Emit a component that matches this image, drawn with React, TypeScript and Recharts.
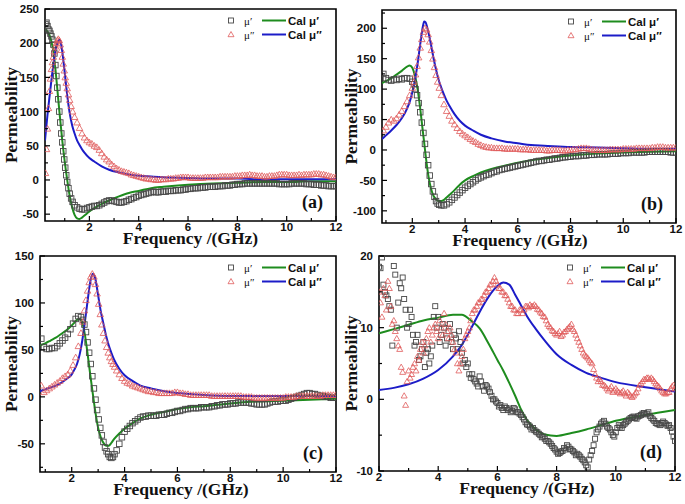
import React from 'react';
import { ComposedChart, XAxis, YAxis, Scatter, Line, ReferenceArea } from 'recharts';

// panel (a)
const aFreq = [
  0.22, 0.26, 0.3, 0.34, 0.38, 0.42, 0.46, 0.5, 0.54, 0.58,
  0.62, 0.66, 0.7, 0.74, 0.78, 0.82, 0.86, 0.9, 0.94, 0.98,
  1.02, 1.06, 1.1, 1.15, 1.2, 1.26, 1.32, 1.4, 1.5, 1.6,
  1.7, 1.8, 1.9, 2.0, 2.2, 2.4, 2.6, 2.8, 3.0, 3.2,
  3.4, 3.6, 3.8, 4.0, 4.2, 4.4, 4.6, 4.8, 5.0, 5.2,
  5.4, 5.6, 5.8, 6.0, 6.2, 6.4, 6.6, 6.8, 7.0, 7.2,
  7.4, 7.6, 7.8, 8.0, 8.2, 8.4, 8.6, 8.8, 9.0, 9.2,
  9.4, 9.6, 9.8, 10.0, 10.2, 10.4, 10.6, 10.8, 11.0, 11.2,
  11.4, 11.6, 11.8, 12.0,
];
const aMuReal = [
  228, 230, 225, 220, 218, 214, 210, 205, 198, 185,
  168, 152, 135, 118, 100, 84, 68, 55, 42, 30,
  18, 7, -3, -12, -20, -27, -32, -37, -40, -42,
  -43, -43, -41, -40, -38, -37, -33, -30, -31, -33,
  -32, -29, -26, -23, -21, -19, -17, -18, -17, -16,
  -16, -15, -14, -13, -12, -12, -11, -10, -10, -9,
  -9, -8, -7, -6, -6, -5, -5, -5, -5, -5,
  -5, -5, -6, -6, -5, -5, -5, -6, -6, -7,
  -8, -8, -9, -9,
];
const aMuImag = [
  10, 45, 75, 105, 130, 148, 162, 172, 180, 188,
  195, 200, 204, 206, 204, 198, 190, 180, 170, 160,
  150, 142, 134, 125, 117, 108, 100, 92, 84, 76,
  68, 62, 58, 55, 50, 44, 34, 27, 20, 15,
  12, 10, 7, 5, 3, 2, 1, 0, 1, 2,
  2, 3, 4, 4, 3, 3, 3, 4, 4, 4,
  5, 5, 5, 6, 7, 7, 7, 6, 6, 5,
  6, 7, 8, 8, 7, 7, 7, 8, 8, 9,
  8, 7, 5, 4,
];
// second sweep of (a), between the points above
const aFreq2 = [
  2.1, 2.3, 2.5, 2.7, 2.9, 3.1, 3.3, 3.5, 3.7, 3.9,
  4.1, 4.3, 4.5, 4.7, 4.9, 5.1, 5.3, 5.5, 5.7, 5.9,
  6.1, 6.3, 6.5, 6.7, 6.9, 7.1, 7.3, 7.5, 7.7, 7.9,
  8.1, 8.3, 8.5, 8.7, 8.9, 9.1, 9.3, 9.5, 9.7, 9.9,
  10.1, 10.3, 10.5, 10.7, 10.9, 11.1, 11.3, 11.5, 11.7, 11.9,
];
const aMuReal2 = [
  -39, -38, -35, -31, -30, -32, -33, -31, -28, -25,
  -22, -20, -18, -18, -17, -17, -16, -15, -15, -14,
  -13, -12, -11, -11, -10, -10, -9, -8, -8, -7,
  -6, -5, -5, -5, -5, -5, -5, -5, -6, -6,
  -6, -5, -5, -5, -6, -7, -7, -8, -9, -9,
];
const aMuImag2 = [
  53, 48, 39, 30, 23, 17, 13, 11, 8, 6,
  4, 2, 1, 0, 1, 1, 2, 3, 4, 4,
  3, 3, 3, 4, 4, 4, 5, 5, 5, 6,
  6, 7, 8, 7, 6, 5, 6, 6, 8, 8,
  7, 7, 8, 8, 8, 9, 9, 8, 6, 4,
];
const aCalFreq = [
  0.2, 0.3, 0.4, 0.5, 0.55, 0.6, 0.65, 0.7, 0.75, 0.8,
  0.85, 0.9, 0.95, 1.0, 1.05, 1.1, 1.15, 1.2, 1.3, 1.4,
  1.5, 1.6, 1.7, 1.8, 2.0, 2.2, 2.5, 2.8, 3.2, 3.6,
  4.0, 4.5, 5, 6, 7, 8, 9, 10, 11, 12,
];
const aCalReal = [
  221, 217, 210, 196, 186, 170, 152, 133, 113, 94,
  76, 58, 42, 27, 13, 0, -12, -23, -40, -51,
  -56, -57, -55, -52, -46, -41, -35, -30, -24, -19,
  -16, -12, -10, -7, -5, -4, -3, -3, -2, -2,
];
const aCalImag = [
  58, 95, 127, 158, 172, 184, 194, 200, 204, 205,
  199, 188, 173, 157, 140, 124, 110, 98, 80, 68,
  58, 51, 45, 40, 32, 27, 20, 15, 11, 8,
  6, 5, 4, 3, 2, 2, 1, 1, 1, 1,
];

// panel (b)
const bFreq = [
  0.9, 1.0, 1.1, 1.2, 1.3, 1.4, 1.5, 1.6, 1.7, 1.8,
  1.9, 2.0, 2.06, 2.12, 2.18, 2.24, 2.3, 2.36, 2.42, 2.48,
  2.54, 2.6, 2.66, 2.72, 2.78, 2.84, 2.9, 2.96, 3.02, 3.1,
  3.2, 3.3, 3.4, 3.5, 3.6, 3.7, 3.8, 3.9, 4.0, 4.2,
  4.4, 4.6, 4.8, 5.0, 5.2, 5.4, 5.6, 5.8, 6.0, 6.2,
  6.4, 6.6, 6.8, 7.0, 7.2, 7.4, 7.6, 7.8, 8.0, 8.2,
  8.4, 8.6, 8.8, 9.0, 9.2, 9.4, 9.6, 9.8, 10.0, 10.2,
  10.4, 10.6, 10.8, 11.0, 11.2, 11.4, 11.6, 11.8, 12.0,
];
const bMuReal = [
  125, 118, 115, 114, 116, 115, 117, 116, 118, 118,
  117, 112, 108, 100, 90, 77, 62, 45, 28, 10,
  -8, -25, -42, -56, -68, -77, -84, -88, -90, -91,
  -91, -89, -86, -82, -78, -74, -70, -66, -62, -56,
  -50, -45, -41, -38, -35, -32, -30, -28, -26, -24,
  -22, -20, -18, -17, -16, -14, -13, -12, -11, -10,
  -9, -9, -8, -7, -7, -7, -6, -6, -5, -5,
  -4, -4, -4, -3, -3, -3, -3, -4, -4,
];
const bMuImag = [
  32, 38, 45, 50, 48, 52, 58, 64, 72, 80,
  90, 102, 112, 124, 138, 152, 168, 182, 194, 200,
  198, 190, 178, 164, 150, 136, 123, 112, 102, 90,
  75, 64, 56, 48, 42, 36, 31, 27, 24, 18,
  13, 8, 5, 4, 3, 3, 2, 2, 2, 1,
  1, 0, 0, 0, -1, 0, 0, -1, 0, 1,
  3, 3, 1, 0, 0, 0, 1, 1, 2, 2,
  2, 3, 3, 3, 4, 5, 4, 4, 4,
];
const bFreq2 = [
  4.1, 4.3, 4.5, 4.7, 4.9, 5.1, 5.3, 5.5, 5.7, 5.9,
  6.1, 6.3, 6.5, 6.7, 6.9, 7.1, 7.3, 7.5, 7.7, 7.9,
  8.1, 8.3, 8.5, 8.7, 8.9, 9.1, 9.3, 9.5, 9.7, 9.9,
  10.1, 10.3, 10.5, 10.7, 10.9, 11.1, 11.3, 11.5, 11.7, 11.9,
];
const bMuReal2 = [
  -59, -53, -47, -43, -40, -36, -33, -31, -29, -27,
  -25, -23, -21, -19, -18, -16, -15, -14, -12, -11,
  -10, -10, -9, -8, -8, -7, -7, -6, -6, -5,
  -5, -4, -4, -4, -3, -3, -3, -3, -3, -4,
];
const bMuImag2 = [
  21, 15, 10, 6, 4, 3, 3, 2, 2, 2,
  1, 1, 0, 0, 0, -1, 0, 0, -1, 0,
  1, 2, 3, 2, 0, 0, 0, 1, 1, 1,
  2, 2, 3, 3, 3, 4, 5, 5, 4, 4,
];
const bCalFreq = [
  0.85, 1.0, 1.2, 1.4, 1.6, 1.8, 1.9, 2.0, 2.1, 2.2,
  2.3, 2.4, 2.45, 2.5, 2.6, 2.7, 2.8, 2.9, 3.0, 3.1,
  3.2, 3.3, 3.4, 3.6, 3.8, 4.0, 4.3, 4.6, 5.0, 5.5,
  6, 6.5, 7, 8, 9, 10, 11, 12,
];
const bCalReal = [
  110, 113, 118, 124, 130, 137, 139, 135, 122, 100,
  68, 30, 12, -7, -40, -62, -75, -81, -84, -84,
  -82, -78, -74, -66, -57, -50, -43, -37, -31, -26,
  -21, -17, -14, -9, -6, -4, -3, -2,
];
const bCalImag = [
  18, 24, 32, 41, 52, 68, 79, 95, 115, 142,
  174, 203, 211, 210, 195, 175, 152, 132, 115, 102,
  91, 81, 73, 59, 48, 40, 32, 25, 19, 14,
  11, 8, 7, 5, 4, 3, 2, 2,
];

// panel (c)
const cFreq = [
  0.85, 0.95, 1.05, 1.15, 1.25, 1.35, 1.45, 1.55, 1.65, 1.75,
  1.85, 1.95, 2.05, 2.15, 2.25, 2.35, 2.42, 2.48, 2.54, 2.6,
  2.66, 2.72, 2.78, 2.84, 2.9, 2.96, 3.02, 3.08, 3.14, 3.2,
  3.26, 3.32, 3.38, 3.44, 3.5, 3.56, 3.62, 3.7, 3.8, 3.9,
  4.0, 4.2, 4.4, 4.6, 4.8, 5.0, 5.2, 5.4, 5.6, 5.8,
  6.0, 6.2, 6.4, 6.6, 6.8, 7.0, 7.2, 7.4, 7.6, 7.8,
  8.0, 8.2, 8.4, 8.6, 8.8, 9.0, 9.2, 9.4, 9.6, 9.8,
  10.0, 10.2, 10.4, 10.6, 10.8, 11.0, 11.2, 11.4, 11.6, 11.8,
  12.0,
];
const cMuReal = [
  62, 53, 51, 51, 52, 52, 54, 57, 60, 63,
  67, 72, 78, 83, 86, 85, 82, 77, 69, 58,
  47, 35, 22, 9, -3, -14, -24, -33, -41, -48,
  -54, -58, -61, -64, -65, -64, -61, -57, -50, -43,
  -37, -31, -26, -22, -21, -20, -20, -19, -18, -17,
  -15, -14, -13, -12, -12, -11, -11, -10, -9, -8,
  -7, -7, -6, -6, -7, -8, -8, -7, -5, -5,
  -4, -3, -1, 1, 3, 4, 3, 1, 0, -1,
  -1,
];
const cMuImag = [
  12, 5, 7, 9, 11, 13, 15, 17, 20, 22,
  24, 28, 34, 42, 54, 68, 80, 92, 103, 113,
  122, 128, 131, 128, 120, 110, 99, 88, 77, 68,
  60, 53, 47, 42, 38, 35, 32, 28, 24, 20,
  17, 14, 11, 9, 7, 6, 5, 4, 4, 4,
  5, 4, 3, 2, 2, 2, 2, 1, 1, 1,
  1, 1, 1, 0, 0, -1, -1, -1, -1, -1,
  -1, 0, 0, 1, 1, 1, 1, 1, 2, 2,
  2,
];
const cFreq2 = [
  4.1, 4.3, 4.5, 4.7, 4.9, 5.1, 5.3, 5.5, 5.7, 5.9,
  6.1, 6.3, 6.5, 6.7, 6.9, 7.1, 7.3, 7.5, 7.7, 7.9,
  8.1, 8.3, 8.5, 8.7, 8.9, 9.1, 9.3, 9.5, 9.7, 9.9,
  10.1, 10.3, 10.5, 10.7, 10.9, 11.1, 11.3, 11.5, 11.7, 11.9,
];
const cMuReal2 = [
  -34, -28, -24, -21, -20, -20, -19, -19, -17, -16,
  -15, -13, -12, -12, -11, -11, -10, -9, -8, -8,
  -7, -6, -6, -6, -7, -8, -8, -6, -5, -4,
  -4, -2, 0, 2, 4, 3, 2, 1, 0, -1,
];
const cMuImag2 = [
  15, 12, 10, 8, 6, 5, 4, 4, 4, 5,
  4, 3, 2, 2, 2, 2, 1, 1, 1, 1,
  1, 1, 0, 0, -1, -1, -1, -1, -1, -1,
  0, 0, 1, 1, 1, 1, 1, 2, 2, 2,
];
const cCalFreq = [
  0.8, 1.0, 1.2, 1.4, 1.6, 1.8, 2.0, 2.1, 2.2, 2.3,
  2.4, 2.5, 2.6, 2.7, 2.8, 2.9, 3.0, 3.1, 3.2, 3.3,
  3.4, 3.5, 3.6, 3.8, 4.0, 4.3, 4.6, 5.0, 5.5, 6,
  6.5, 7, 8, 9, 10, 11, 12,
];
const cCalReal = [
  55, 57, 60, 63, 67, 71, 76, 79, 82, 83,
  79, 66, 46, 24, 3, -17, -33, -43, -49, -52,
  -52, -49, -45, -39, -34, -28, -23, -19, -16, -13,
  -11, -10, -7, -5, -4, -3, -2,
];
const cCalImag = [
  6, 8, 10, 12, 15, 19, 24, 29, 35, 45,
  60, 80, 102, 122, 131, 125, 108, 91, 78, 65,
  55, 47, 40, 30, 23, 17, 12, 9, 6, 4,
  3, 2, 1, 1, 1, 1, 1,
];

// panel (d)
const dFreq = [
  2.0, 2.1, 2.2, 2.3, 2.4, 2.5, 2.6, 2.7, 2.8, 2.9,
  3.0, 3.1, 3.2, 3.3, 3.4, 3.5, 3.6, 3.7, 3.8, 3.9,
  4.0, 4.1, 4.2, 4.3, 4.4, 4.5, 4.6, 4.7, 4.8, 4.9,
  5.0, 5.1, 5.2, 5.3, 5.4, 5.5, 5.6, 5.7, 5.8, 5.9,
  6.0, 6.1, 6.2, 6.3, 6.4, 6.5, 6.6, 6.7, 6.8, 6.9,
  7.0, 7.1, 7.2, 7.3, 7.4, 7.5, 7.6, 7.7, 7.8, 7.9,
  8.0, 8.1, 8.2, 8.3, 8.4, 8.5, 8.6, 8.7, 8.8, 8.9,
  9.0, 9.1, 9.2, 9.3, 9.4, 9.5, 9.6, 9.7, 9.8, 9.9,
  10.0, 10.1, 10.2, 10.3, 10.4, 10.5, 10.6, 10.7, 10.8, 10.9,
  11.0, 11.1, 11.2, 11.3, 11.4, 11.5, 11.6, 11.7, 11.8, 11.9,
  12.0,
];
const dMuReal = [
  18.5, 19.8, 15, 14, 12.5, 18.6, 10, 16.2, 17, 12.5,
  10.5, 11.5, 7.5, 9, 6, 8, 6.5, 5, 7.5, 13,
  11.5, 9, 10, 8.5, 10.5, 7, 8.5, 9.5, 6.5, 5.5,
  5, 3, 2.8, 2.2, 3.2, 1.8, 2, 1.5, 0.5, 0,
  -0.5, -0.8, -1.5, -1.2, -1.3, -1.6, -1.4, -1.8, -2.2, -2.8,
  -3.5, -3.8, -4, -4.5, -4.8, -5.3, -5.5, -5.8, -6.2, -6.8,
  -7.3, -7.5, -7.2, -7, -6.6, -7, -7.4, -7.6, -8, -8.5,
  -9.2, -8.4, -7.2, -5.5, -4.2, -3.4, -3, -3.8, -4.2, -5,
  -4.6, -3.6, -4, -3.4, -3, -2.6, -2.4, -2.7, -2.3, -2,
  -2.1, -1.8, -2.6, -3, -3.4, -3.6, -3.1, -3.5, -3.6, -4.5,
  -5.8,
];
const dMuImag = [
  15, 11.5, 14.5, 16.5, 13, 11, 8.5, 7, 3.8, -0.8,
  4, 3.5, 5, 6, 7, 6.5, 8.5, 10, 9, 10.5,
  8.5, 10, 12, 9.5, 10, 8, 6.5, 4, 6, 8.5,
  9.5, 11, 12.5, 13, 13.5, 14, 15, 15.5, 16, 17,
  16, 15.5, 15, 14.5, 13.5, 13, 12.5, 12, 12.5, 12.5,
  13, 13.2, 13, 13, 12.5, 12, 11.5, 10.5, 10, 9.5,
  9, 9.5, 9, 9.5, 10, 10.5, 9.5, 8.5, 7.5, 6.5,
  6, 5.5, 5, 3.5, 2.5, 2.5, 2, 1.5, 1.5, 1,
  1.5, 1, 1, 0.8, 1, 0.5, 0.5, 1, 2, 2.5,
  2.8, 3, 3, 2.5, 2, 1.5, 1, 0.8, 1, 1.8,
  1.5,
];
const dFreq2 = [
  2.05, 2.15, 2.25, 2.35, 2.45, 2.55, 2.65, 2.75, 2.85, 2.95,
  3.05, 3.15, 3.25, 3.35, 3.45, 3.55, 3.65, 3.75, 3.85, 3.95,
  4.05, 4.15, 4.25, 4.35, 4.45, 4.55, 4.65, 4.75, 4.85, 4.95,
  5.05, 5.15, 5.25, 5.35, 5.45, 5.55, 5.65, 5.75, 5.85, 5.95,
  6.05, 6.15, 6.25, 6.35, 6.45, 6.55, 6.65, 6.75, 6.85, 6.95,
  7.05, 7.15, 7.25, 7.35, 7.45, 7.55, 7.65, 7.75, 7.85, 7.95,
  8.05, 8.15, 8.25, 8.35, 8.45, 8.55, 8.65, 8.75, 8.85, 8.95,
  9.05, 9.15, 9.25, 9.35, 9.45, 9.55, 9.65, 9.75, 9.85, 9.95,
  10.05, 10.15, 10.25, 10.35, 10.45, 10.55, 10.65, 10.75, 10.85, 10.95,
  11.05, 11.15, 11.25, 11.35, 11.45, 11.55, 11.65, 11.75, 11.85, 11.95,
];
const dMuReal2 = [
  18.3, 16, 14.5, 13, 7.5, 17.4, 13.5, 15.5, 14, 10,
  12.5, 9, 8, 5.5, 7, 4.5, 7, 6, 11.5, 10,
  8, 10.5, 7.5, 9.5, 8, 9, 7, 8, 5, 4.5,
  3.5, 3.5, 2.5, 1.8, 2.5, 1.2, 1.8, 1, 0, -0.3,
  -1, -1.2, -1, -1.5, -1.8, -1.2, -1.8, -2, -2.5, -3.2,
  -3.6, -4.2, -4.3, -4.6, -5, -5.2, -5.8, -6, -6.5, -7,
  -7.6, -7.3, -6.8, -6.4, -6.9, -7.2, -7.8, -7.8, -8.3, -8.8,
  -9.5, -7.8, -6.4, -4.6, -3.8, -3.2, -3.4, -4, -4.6, -5.2,
  -4, -3.8, -3.6, -3.2, -2.8, -2.5, -2.6, -2.4, -2.2, -1.9,
  -2, -2.3, -2.8, -3.3, -3.5, -3.3, -3.3, -3.7, -4, -5.2,
];
const dMuImag2 = [
  13.5, 15.5, 12.5, 15.5, 10.5, 9.5, 7.5, 4.5, 0.5, 2.5,
  3, 4.5, 4, 5.5, 8, 7.5, 9.5, 8, 10, 9.5,
  11, 9, 10.5, 8.5, 9, 7, 5, 5, 7, 9,
  10, 12, 12.5, 13.5, 14, 14.5, 15, 16, 16.5, 16.5,
  15.5, 15, 14.5, 14, 13, 12.5, 12, 12.5, 12, 13,
  12.8, 13, 13.2, 12.6, 12.2, 11.6, 11, 10.2, 9.6, 9.2,
  9.2, 8.8, 9.4, 9.8, 10.2, 9.8, 9, 8, 7, 6.2,
  5.8, 5.2, 4.2, 3, 2.8, 2, 1.8, 1.2, 1.8, 1.2,
  1.2, 0.8, 1.2, 0.5, 0.8, 0.3, 0.8, 1.5, 2.2, 2.8,
  3, 2.8, 2.8, 2.2, 1.8, 1.2, 0.8, 1, 1.5, 2,
];
const dCalFreq = [
  2, 2.5, 3, 3.5, 4, 4.5, 4.8, 5.1, 5.4, 5.7,
  6.0, 6.2, 6.4, 6.6, 6.8, 7.0, 7.3, 7.6, 8.0, 8.5,
  9, 9.5, 10, 11, 12,
];
const dCalReal = [
  9.2, 9.8, 10.4, 11.0, 11.4, 11.8, 11.8, 11.0, 9.9, 7.8,
  5.5, 4.0, 2.3, 0.5, -1.4, -2.9, -4.2, -4.9, -5.1, -4.7,
  -4.2, -3.6, -3.0, -2.2, -1.5,
];
const dCalImag = [
  1.3, 1.6, 2.1, 2.9, 4.1, 6.0, 7.6, 9.8, 12.2, 14.3,
  15.8, 16.3, 16.0, 14.6, 13.1, 11.6, 9.8, 8.2, 6.3, 4.8,
  3.7, 3.0, 2.4, 1.7, 1.1,
];

const xMajor = [2, 4, 6, 8, 10, 12];
const xMinor = [1, 3, 5, 7, 9, 11];
const xMinorD = [3, 5, 7, 9, 11];

const SERIF = '"Liberation Serif", "Times New Roman", serif';
const SANS = '"Liberation Sans", Arial, sans-serif';
const GREEN = '#1e8c1e';
const BLUE = '#1c1cc8';
const SQ = '#474747';
const TRI = '#e05a5a';
const Y_GAP = 6;
const X_GAP = 2;

const pts = (fs: number[], vs: number[]) => fs.map((f, i) => ({ f, v: vs[i] }));

const YTick = (props: any) => {
  const { x, y, payload, majors } = props;
  const major = majors.includes(payload.value);
  const ax = x + Y_GAP;
  return (
    <g>
      <line x1={ax} x2={ax + (major ? 5 : 3)} y1={y} y2={y} stroke="#000" strokeWidth={1.2} />
      {major && (
        <text x={x} y={y} dy="0.36em" textAnchor="end" fontFamily={SANS} fontSize={11.5} fontWeight="bold" fill="#111">
          {payload.value}
        </text>
      )}
    </g>
  );
};

const XTick = (props: any) => {
  const { x, y, payload } = props;
  const major = xMajor.includes(payload.value);
  const ay = y - X_GAP;
  return (
    <g>
      <line x1={x} x2={x} y1={ay} y2={ay - (major ? 5 : 3)} stroke="#000" strokeWidth={1.2} />
      {major && (
        <text x={x} y={y} dy="0.72em" textAnchor="middle" fontFamily={SANS} fontSize={11.5} fontWeight="bold" fill="#111">
          {payload.value}
        </text>
      )}
    </g>
  );
};

const XTitle = (props: any) => {
  const vb = props.viewBox || { x: 0, y: 0, width: 0 };
  const x = vb.x + vb.width / 2 + props.shift;
  return (
    <text x={x} y={vb.y + 23} textAnchor="middle" fontFamily={SERIF} fontSize={17.5} fontWeight="bold" fill="#111">
      Frequency /(GHz)
    </text>
  );
};

const YTitle = (props: any) => {
  const vb = props.viewBox || { x: 0, y: 0, height: 0 };
  const x = vb.x + props.shift;
  const y = vb.y + vb.height / 2;
  return (
    <text x={x} y={y} transform={`rotate(-90, ${x}, ${y})`} textAnchor="middle" dominantBaseline="central"
      fontFamily={SERIF} fontSize={17.5} fontWeight="bold" fill="#111">
      Permeability
    </text>
  );
};

const squareShape = (size: number) => (p: any) => (
  <rect x={p.cx - size / 2} y={p.cy - size / 2} width={size} height={size} fill="none" stroke={SQ} strokeWidth={0.9} />
);
const triShape = (size: number) => (p: any) => {
  const h = size / 2;
  return (
    <path d={`M${p.cx},${p.cy - h} L${p.cx + h},${p.cy + h * 0.75} L${p.cx - h},${p.cy + h * 0.75} Z`}
      fill="none" stroke={TRI} strokeWidth={0.8} />
  );
};

type PanelProps = {
  tag: string; left: number; top: number; width: number; height: number;
  mTop: number; mRight: number; yw: number; xh: number; yTitleX: number; xTitleShift: number;
  xDomain: [number, number]; yDomain: [number, number];
  xMin: number[]; yMajor: number[]; yMinor: number[];
  freq: number[]; muR: number[]; muI: number[];
  freq2: number[]; muR2: number[]; muI2: number[];
  calFreq: number[]; calR: number[]; calI: number[];
  mk: number;
};

const Panel = (p: PanelProps) => (
  <div style={{ position: 'absolute', left: p.left, top: p.top }}>
    <ComposedChart width={p.width} height={p.height} margin={{ top: p.mTop, right: p.mRight, left: 0, bottom: 0 }}>
      <XAxis type="number" dataKey="f" domain={p.xDomain} allowDataOverflow ticks={[...xMajor, ...p.xMin]}
        interval={0} tickLine={false} tickSize={0} tickMargin={X_GAP} axisLine={false} height={p.xh}
        tick={<XTick />} label={<XTitle shift={p.xTitleShift} />} />
      <YAxis type="number" dataKey="v" domain={p.yDomain} allowDataOverflow ticks={[...p.yMajor, ...p.yMinor]}
        interval={0} tickLine={false} tickSize={0} tickMargin={Y_GAP} axisLine={false} width={p.yw}
        tick={<YTick majors={p.yMajor} />} label={<YTitle shift={p.yTitleX} />} />
      <Scatter data={pts([...p.freq, ...p.freq2], [...p.muR, ...p.muR2])} shape={squareShape(p.mk)} isAnimationActive={false} />
      <Scatter data={pts([...p.freq, ...p.freq2], [...p.muI, ...p.muI2])} shape={triShape(p.mk + 1)} isAnimationActive={false} />
      <Line data={pts(p.calFreq, p.calR)} dataKey="v" type="monotone" dot={false} stroke={GREEN} strokeWidth={2} isAnimationActive={false} />
      <Line data={pts(p.calFreq, p.calI)} dataKey="v" type="monotone" dot={false} stroke={BLUE} strokeWidth={2} isAnimationActive={false} />
      <ReferenceArea x1={p.xDomain[0]} x2={p.xDomain[1]} y1={p.yDomain[0]} y2={p.yDomain[1]}
        fill="none" fillOpacity={0} stroke="#000" strokeWidth={1.6}
        label={{ value: p.tag, position: 'insideBottomRight', offset: 13, fontFamily: SERIF, fontSize: 18, fontWeight: 'bold', fill: '#111' }} />
    </ComposedChart>
  </div>
);

const LegendBlock = ({ r, t }: { r: number; t: number }) => {
  const y1 = t + 11.5;
  const y2 = t + 25.5;
  const mx = r - 105;
  return (
    <g>
      <rect x={mx - 2.5} y={y1 - 2.5} width={5} height={5} fill="none" stroke={SQ} strokeWidth={0.9} />
      <path d={`M${mx},${y2 - 3} L${mx + 3},${y2 + 2.2} L${mx - 3},${y2 + 2.2} Z`} fill="none" stroke={TRI} strokeWidth={0.8} />
      <text x={r - 92} y={y1} dominantBaseline="central" fontFamily={SERIF} fontSize={11} fill="#111">μ′</text>
      <text x={r - 92} y={y2} dominantBaseline="central" fontFamily={SERIF} fontSize={11} fill="#111">μ″</text>
      <line x1={r - 74} x2={r - 50} y1={y1} y2={y1} stroke={GREEN} strokeWidth={2} />
      <line x1={r - 74} x2={r - 50} y1={y2} y2={y2} stroke={BLUE} strokeWidth={2} />
      <text x={r - 48} y={y1} dominantBaseline="central" fontFamily={SANS} fontSize={11.5} fontWeight="bold" fill="#111">Cal μ′</text>
      <text x={r - 48} y={y2} dominantBaseline="central" fontFamily={SANS} fontSize={11.5} fontWeight="bold" fill="#111">Cal μ″</text>
    </g>
  );
};

export default function App() {
  return (
    <div style={{ position: 'absolute', left: 0, top: 0, width: 685, height: 504, background: '#fff', overflow: 'hidden' }}>
      <Panel tag="(a)" left={0} top={0} width={346} height={252} mTop={9} mRight={10} yw={45} xh={31}
        yTitleX={11} xTitleShift={0} xDomain={[0.2, 12]} yDomain={[-60, 250]} xMin={xMinor}
        yMajor={[-50, 0, 50, 100, 150, 200, 250]} yMinor={[-25, 25, 75, 125, 175, 225]}
        freq={aFreq} muR={aMuReal} muI={aMuImag} freq2={aFreq2} muR2={aMuReal2} muI2={aMuImag2}
        calFreq={aCalFreq} calR={aCalReal} calI={aCalImag} mk={5.5} />
      <Panel tag="(b)" left={336} top={0} width={349} height={252} mTop={10} mRight={9} yw={46} xh={29}
        yTitleX={15} xTitleShift={-9} xDomain={[0.85, 12]} yDomain={[-120, 230]} xMin={xMinor}
        yMajor={[-100, -50, 0, 50, 100, 150, 200]} yMinor={[-75, -25, 25, 75, 125, 175, 225]}
        freq={bFreq} muR={bMuReal} muI={bMuImag} freq2={bFreq2} muR2={bMuReal2} muI2={bMuImag2}
        calFreq={bCalFreq} calR={bCalReal} calI={bCalImag} mk={5.5} />
      <Panel tag="(c)" left={0} top={246} width={346} height={258} mTop={10} mRight={10} yw={40} xh={32}
        yTitleX={11} xTitleShift={-7} xDomain={[0.8, 12]} yDomain={[-80, 150]} xMin={xMinor}
        yMajor={[-50, 0, 50, 100, 150]} yMinor={[-75, -25, 25, 75, 125]}
        freq={cFreq} muR={cMuReal} muI={cMuImag} freq2={cFreq2} muR2={cMuReal2} muI2={cMuImag2}
        calFreq={cCalFreq} calR={cCalReal} calI={cCalImag} mk={5.5} />
      <Panel tag="(d)" left={336} top={246} width={349} height={258} mTop={10} mRight={10} yw={43} xh={33}
        yTitleX={15} xTitleShift={0} xDomain={[2, 12]} yDomain={[-10, 20]} xMin={xMinorD}
        yMajor={[-10, 0, 10, 20]} yMinor={[-5, 5, 15]}
        freq={dFreq} muR={dMuReal} muI={dMuImag} freq2={dFreq2} muR2={dMuReal2} muI2={dMuImag2}
        calFreq={dCalFreq} calR={dCalReal} calI={dCalImag} mk={5} />
      <svg width={685} height={504} style={{ position: 'absolute', left: 0, top: 0, pointerEvents: 'none' }}>
        <LegendBlock r={336} t={9} />
        <LegendBlock r={676} t={10} />
        <LegendBlock r={336} t={256} />
        <LegendBlock r={675} t={256} />
      </svg>
    </div>
  );
}
